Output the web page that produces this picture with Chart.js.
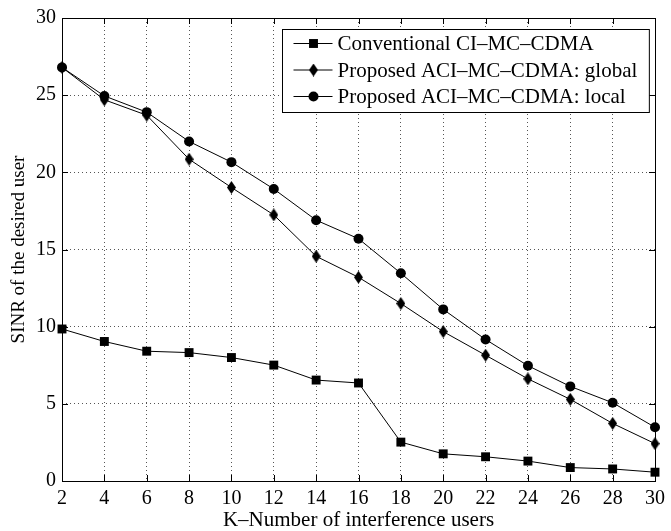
<!DOCTYPE html>
<html>
<head>
<meta charset="utf-8">
<script src="https://cdn.jsdelivr.net/npm/chart.js@4.4.0/dist/chart.umd.min.js"></script>
<style>
html, body { margin: 0; padding: 0; background: #fff; }
</style>
</head>
<body>
<canvas id="myChart" width="671" height="531"></canvas>
<script>
"use strict";
// data
const users = [2, 4, 6, 8, 10, 12, 14, 16, 18, 20, 22, 24, 26, 28, 30];
const conventional = [9.85, 9.04, 8.41, 8.32, 8.0, 7.51, 6.54, 6.35, 2.52, 1.76, 1.57, 1.29, 0.87, 0.78, 0.57];
const globalAci = [26.8, 24.7, 23.7, 20.85, 19.02, 17.24, 14.56, 13.2, 11.5, 9.68, 8.15, 6.62, 5.29, 3.73, 2.42];
const localAci = [26.8, 24.95, 23.9, 22.0, 20.66, 18.92, 16.9, 15.7, 13.46, 11.12, 9.17, 7.47, 6.13, 5.07, 3.48];
const seriesNames = ["Conventional CI\u2013MC\u2013CDMA", "Proposed ACI\u2013MC\u2013CDMA: global", "Proposed ACI\u2013MC\u2013CDMA: local"];
const xTicks = [2, 4, 6, 8, 10, 12, 14, 16, 18, 20, 22, 24, 26, 28, 30];
const yTicks = [0, 5, 10, 15, 20, 25, 30];

const FONT = "'Liberation Serif', 'DejaVu Serif', serif";

// tall diamond marker like matlab's
function diamond() {
    let c = document.createElement('canvas');
    c.width = 9; c.height = 13;
    let g = c.getContext('2d');
    g.fillStyle = '#000';
    g.beginPath();
    g.moveTo(4.5, 0); g.lineTo(9, 6.5); g.lineTo(4.5, 13); g.lineTo(0, 6.5);
    g.closePath();
    g.fill();
    return c;
}
const diamondImg = diamond();

function pts(vals) {
    return users.map((u, i) => ({x: u, y: vals[i]}));
}

function makeSet(label, vals, style, r) {
    return {
        label: label,
        data: pts(vals),
        borderColor: '#000',
        backgroundColor: '#000',
        borderWidth: 1,
        pointStyle: style,
        pointRadius: r,
        pointHoverRadius: r,
        pointBorderWidth: 0,
        fill: false,
        tension: 0,
        clip: false
    };
}

const frame = {
    id: 'frame',
    beforeDatasetsDraw(chart) {
        const ctx = chart.ctx;
        const a = chart.chartArea;
        const xs = chart.scales.x, ys = chart.scales.y;
        ctx.save();
        ctx.strokeStyle = '#000';
        ctx.lineWidth = 1;
        ctx.beginPath();
        for (let t of xTicks) {
            let px = Math.round(xs.getPixelForValue(t)) + 0.5;
            ctx.moveTo(px, a.bottom); ctx.lineTo(px, a.bottom - 6);
            ctx.moveTo(px, a.top); ctx.lineTo(px, a.top + 6);
        }
        for (let t of yTicks) {
            let py = Math.round(ys.getPixelForValue(t)) + 0.5;
            ctx.moveTo(a.left, py); ctx.lineTo(a.left + 6, py);
            ctx.moveTo(a.right, py); ctx.lineTo(a.right - 6, py);
        }
        ctx.stroke();
        ctx.strokeRect(Math.round(a.left) + 0.5, Math.round(a.top) + 0.5, Math.round(a.right - a.left), Math.round(a.bottom - a.top));
        ctx.restore();
    },
    afterDraw(chart) {
        // legend box in the upper right corner
        const ctx = chart.ctx;
        const a = chart.chartArea;
        ctx.save();
        ctx.font = '21px ' + FONT;
        let w = 0;
        for (let s of chart.data.datasets) w = Math.max(w, ctx.measureText(s.label).width);
        let boxW = w + 67, boxH = 83;
        let x0 = Math.round(a.right - 6 - boxW) + 0.5, y0 = Math.round(a.top + 11) + 0.5;
        ctx.fillStyle = '#fff';
        ctx.fillRect(x0, y0, boxW, boxH);
        ctx.strokeStyle = '#000';
        ctx.lineWidth = 1;
        ctx.strokeRect(x0, y0, boxW, boxH);
        chart.data.datasets.forEach((s, i) => {
            let cy = y0 + 14 + i * 26.5;
            ctx.beginPath();
            ctx.moveTo(x0 + 11, cy); ctx.lineTo(x0 + 50, cy);
            ctx.stroke();
            ctx.fillStyle = '#000';
            Chart.helpers.drawPoint(ctx, {pointStyle: s.pointStyle, radius: s.pointRadius, rotation: 0, borderWidth: 0}, x0 + 31, cy);
            ctx.textBaseline = 'middle';
            ctx.textAlign = 'left';
            ctx.fillText(s.label, x0 + 55, cy + 1);
        });
        ctx.restore();
    }
};

const config = {
    type: 'line',
    data: {
        datasets: [
            makeSet(seriesNames[0], conventional, 'rect', 6.3),
            makeSet(seriesNames[1], globalAci, diamondImg, 5),
            makeSet(seriesNames[2], localAci, 'circle', 5)
        ]
    },
    options: {
        responsive: false,
        animation: false,
        devicePixelRatio: 1,
        layout: { padding: { left: 0, right: 13, top: 10, bottom: 0 } },
        plugins: {
            legend: { display: false },
            tooltip: { enabled: false }
        },
        scales: {
            x: {
                type: 'linear',
                min: 2,
                max: 30,
                afterBuildTicks(scale) { scale.ticks = xTicks.map(v => ({value: v})); },
                afterFit(scale) { scale.height = 50; },
                grid: { color: '#555', lineWidth: 1, drawTicks: false },
                border: { display: false, dash: [1, 3] },
                ticks: { color: '#000', padding: 6, maxRotation: 0, autoSkip: false, font: { family: FONT, size: 20 } },
                title: { display: true, text: 'K\u2013Number of interference users', color: '#000', padding: { top: 0, bottom: 0 }, font: { family: FONT, size: 21, lineHeight: 1 } }
            },
            y: {
                type: 'linear',
                min: 0,
                max: 30,
                afterBuildTicks(scale) { scale.ticks = yTicks.map(v => ({value: v})); },
                afterFit(scale) { scale.width = 62; },
                grid: { color: '#555', lineWidth: 1, drawTicks: false },
                border: { display: false, dash: [1, 3] },
                ticks: { color: '#000', padding: 6, font: { family: FONT, size: 20 } },
                title: { display: true, text: 'SINR of the desired user', color: '#000', padding: { top: 8, bottom: 0 }, font: { family: FONT, size: 19 } }
            }
        }
    },
    plugins: [frame]
};

let myChart = new Chart(document.getElementById('myChart'), config);
</script>
</body>
</html>
